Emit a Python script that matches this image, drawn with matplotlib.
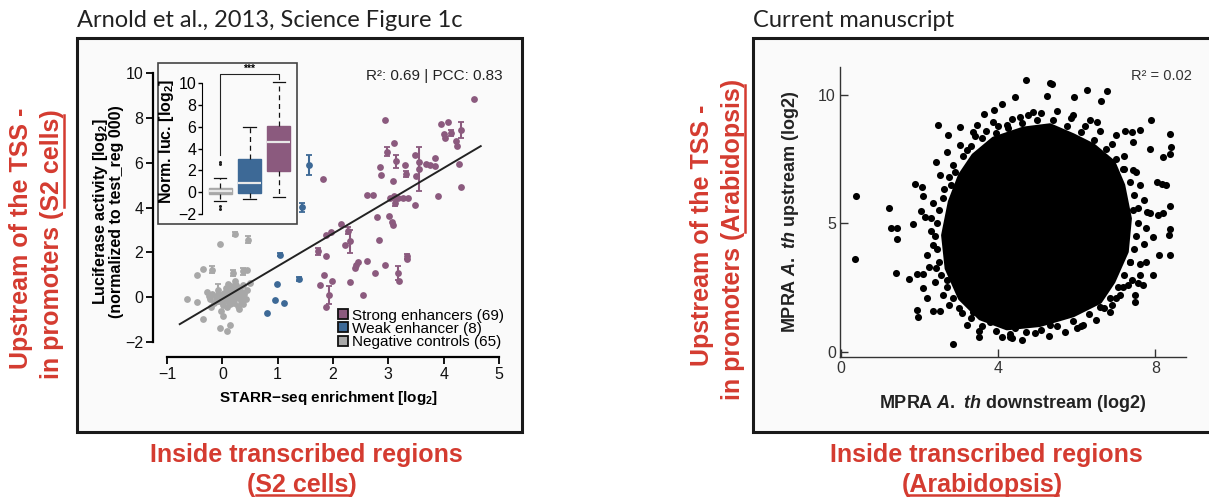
import numpy as np
import matplotlib
matplotlib.use("Agg")
import matplotlib.pyplot as plt
from matplotlib.patches import Rectangle, Polygon
from matplotlib.lines import Line2D

plt.rcParams['font.family'] = ['Liberation Sans', 'DejaVu Sans']
plt.rcParams['mathtext.fontset'] = 'custom'
plt.rcParams['mathtext.rm'] = 'Liberation Sans:bold'
plt.rcParams['mathtext.bf'] = 'Liberation Sans:bold'
plt.rcParams['mathtext.it'] = 'Liberation Sans:italic:bold'

# ---------- data: left panel (Arnold et al. 2013, Fig 1c) ----------
strong_x = [4.55, 2.94, 3.95, 4.07, 4.01, 4.02, 4.13, 4.32, 4.23, 4.25, 3.10, 2.97, 3.14, 2.85, 2.87,
            3.30, 3.32, 3.48, 3.56, 3.55, 3.75, 3.84, 3.84, 4.28, 4.31, 3.89, 3.49, 3.09, 3.03, 3.10,
            3.17, 3.26, 3.35, 3.12, 2.61, 2.73, 2.79, 3.01, 3.06, 3.09, 2.15, 1.97, 1.88, 2.27, 2.30,
            2.21, 1.82, 2.83, 1.73, 1.88, 2.42, 2.39, 2.61, 2.94, 2.76, 3.33, 3.18, 3.19, 1.84, 1.99,
            1.76, 2.30, 1.92, 1.88, 2.55, 3.50, 3.68, 2.45, 3.33]
strong_y = [8.85, 7.90, 7.74, 7.81, 7.30, 7.10, 7.32, 7.47, 6.95, 6.76, 6.86, 6.48, 6.06, 5.79, 5.47,
            5.88, 5.49, 6.36, 6.03, 5.72, 5.88, 6.21, 5.84, 5.96, 4.90, 4.50, 4.10, 5.17, 4.43, 4.50,
            4.43, 4.43, 4.43, 4.20, 4.57, 4.57, 3.56, 3.64, 3.35, 3.20, 3.26, 2.91, 2.79, 2.97, 2.49,
            2.31, 5.29, 2.56, 2.04, 1.82, 1.45, 1.30, 1.63, 1.45, 1.08, 1.82, 1.08, 0.71, 1.00, 0.71,
            0.53, 0.68, 0.11, -0.45, 0.11, 5.40, 5.92, 1.55, 1.70]
strong_err = [0, 0, 0, 0, 0, 0, 0.12, 0.35, 0, 0, 0, 0.2, 0.3, 0, 0,
              0, 0.15, 0, 0, 1.0, 0, 0, 0, 0, 0, 0, 0, 0, 0, 0,
              0, 0, 0, 0.15, 0, 0, 0, 0, 0, 0, 0, 0, 0, 0.15, 0.5,
              0, 0, 0, 0.15, 0, 0, 0, 0, 0, 0, 0.1, 0.3, 0, 0, 0,
              0, 0, 0.4, 0, 0, 0, 0, 0, 0]

weak_x = [1.56, 1.44, 1.05, 1.39, 0.99, 0.95, 1.12, 0.80]
weak_y = [5.91, 4.02, 1.90, 0.81, 0.60, -0.11, -0.26, -0.71]
weak_err = [0.45, 0.2, 0.08, 0.1, 0, 0, 0, 0]

neg_x = [0.23, 0.46, -0.05, -0.19, -0.35, -0.45, -0.63, -0.45, -0.35, -0.05, 0.08, 0.14, 0.02, 0.20,
         0.37, 0.45, 0.23, 0.50, -0.08,
         -0.28, -0.25, -0.22, -0.18, -0.15, -0.12, -0.10, -0.08, -0.05, -0.03, 0.00, 0.00, 0.02, 0.03,
         0.05, 0.06, 0.08, 0.08, 0.10, 0.12, 0.12, 0.14, 0.15, 0.16, 0.18, 0.20, 0.21, 0.22, 0.24, 0.25,
         0.27, 0.28, 0.30, 0.31, 0.33, 0.35, 0.36, 0.38, 0.40, 0.42, 0.44, 0.30, -0.20, 0.10, -0.02, 0.38]
neg_y = [2.83, 2.56, 2.39, 1.23, 1.27, 1.00, -0.07, -0.20, -0.96, -1.39, -1.53, -1.23, -0.86, 1.08,
         1.15, 1.23, 0.70, 0.65, 0.15,
         0.25, 0.05, -0.10, 0.15, -0.25, 0.00, -0.15, 0.30, -0.05, 0.10, -0.20, 0.05, -0.35, 0.20,
         -0.05, 0.40, -0.45, 0.10, -0.15, 0.25, 0.00, -0.30, 0.50, 0.10, -0.10, 0.35, -0.25, 0.05, 0.55, -0.05,
         0.20, -0.40, 0.10, 0.40, -0.15, 0.25, 0.00, -0.30, 0.15, -0.10, 0.30, -0.55, -0.45, 0.60, -0.60, 0.55]
neg_err = [0.08, 0.15, 0, 0.15, 0, 0, 0, 0, 0, 0, 0, 0, 0, 0.15, 0.15, 0, 0, 0, 0.45] + [0] * 46

fit_slope = 1.46
fit_intercept = -0.08
fit_range = [-0.77, 4.67]

legend_labels = ["Strong enhancers (69)", "Weak enhancer (8)", "Negative controls (65)"]
group_colors = ["#8B5A7E", "#3D6996", "#A8A8A8"]

# inset boxplot summary (negative, weak, strong)
box_med = [0.11, 0.82, 4.58]
box_q1 = [-0.19, -0.10, 1.97]
box_q3 = [0.41, 3.05, 6.10]
box_lo = [-0.81, -0.65, -0.41]
box_hi = [1.28, 6.00, 10.10]
box_fliers = [[2.80, 2.56, -1.24, -1.54], [], []]
box_order = [2, 1, 0]  # gray, blue, purple

# ---------- data: right panel (current manuscript) ----------
# solid centre of the cloud (outline) + the separate dots around it
core_x = [3.88, 4.64, 5.32, 5.91, 6.42, 6.93, 7.18, 7.35, 7.27, 6.93, 6.59, 5.91, 5.06, 4.22, 3.54,
          3.03, 2.69, 2.60, 2.77, 3.03, 3.37]
core_y = [8.29, 8.68, 8.81, 8.42, 8.03, 7.38, 6.48, 5.18, 3.89, 2.72, 1.94, 1.42, 1.04, 0.91, 1.30,
          2.07, 3.24, 4.53, 5.83, 6.87, 7.64]
dots_x = [0.38, 0.36, 1.22, 1.26, 1.42, 1.42, 1.40, 1.73, 1.82, 1.88, 2.05, 2.08, 2.04, 2.14, 1.93,
          2.08, 1.93, 1.95, 2.33, 2.52, 2.86, 3.51, 2.46, 2.73, 3.03, 3.45, 3.65, 3.89, 4.09, 4.43,
          4.70, 5.25, 5.32, 5.38, 5.94, 6.25, 6.62, 6.78, 7.23, 7.40, 7.61, 7.88, 8.37, 8.39, 8.37,
          8.20, 8.03, 8.27, 8.37, 8.37, 8.35, 8.37, 8.10, 7.95, 7.95, 7.48, 7.31, 7.57, 7.76, 7.78,
          7.86, 7.44, 7.18, 7.44, 2.43, 2.52, 2.62, 2.35, 2.18, 2.09, 2.18, 2.69, 2.43, 6.17, 6.00,
          5.32, 4.94, 4.43, 4.30, 4.34, 4.05, 3.79, 3.37, 3.07, 6.84, 6.68, 7.01, 7.18, 7.61, 5.91,
          6.34, 6.51, 7.01, 7.44, 7.86, 4.89, 4.55, 4.22, 3.88, 3.37, 3.03, 2.69, 2.86, 7.48, 7.69,
          7.35, 8.16, 8.07, 8.20]
dots_y = [6.05, 3.60, 5.60, 4.82, 4.82, 4.38, 3.07, 2.81, 4.96, 6.54, 6.41, 6.06, 5.48, 5.25, 3.04,
          3.04, 1.62, 1.36, 1.59, 1.59, 0.28, 0.58, 8.83, 8.42, 8.74, 8.83, 9.26, 9.39, 9.65, 9.91,
          10.58, 9.94, 10.45, 10.40, 9.91, 10.17, 9.74, 10.13, 8.58, 8.55, 8.61, 9.00, 8.48, 7.97, 7.71,
          7.58, 6.61, 6.48, 5.67, 4.79, 4.53, 3.76, 3.76, 4.47, 2.98, 2.20, 2.59, 2.66, 3.50, 5.44,
          5.38, 5.51, 7.12, 7.06, 7.38, 6.87, 6.35, 4.15, 3.76, 2.46, 2.07, 2.78, 3.24, 1.04, 0.93,
          1.04, 0.71, 0.91, 0.58, 0.52, 1.42, 1.17, 1.55, 1.49, 1.55, 1.68, 2.07, 2.53, 2.98, 9.20,
          9.00, 8.94, 8.42, 8.16, 7.90, 9.33, 9.13, 8.81, 8.94, 8.55, 8.03, 7.77, 7.25, 1.94, 2.59,
          3.50, 6.54, 5.31, 5.38]
ring_x = [3.60, 3.30, 3.10, 2.90, 2.80, 2.60, 2.50, 2.45, 2.40, 2.45, 2.50, 2.55, 2.70, 2.85, 3.00,
          3.30, 3.60, 3.95, 4.30, 4.70, 5.10, 5.50, 5.90, 6.30, 6.60, 6.85, 7.05, 7.20, 7.35, 7.45,
          7.50, 7.55, 7.55, 7.45, 7.35, 7.20, 7.00, 6.75, 6.45, 6.10, 5.75, 5.40, 5.00, 4.60, 4.25,
          3.95, 3.40, 3.20, 2.75, 2.35, 2.30, 2.30, 2.25, 2.40, 2.60, 2.75, 3.20, 3.50, 4.10, 4.60,
          5.30, 5.70, 6.10, 6.50, 6.90, 7.10, 7.40, 7.60, 7.70, 7.75, 7.70, 7.60, 7.50, 7.20, 6.90,
          6.60, 6.20, 5.85, 5.50, 5.10, 4.75, 4.35, 4.00, 3.70]
ring_y = [8.30, 8.00, 7.60, 7.00, 6.50, 6.00, 5.50, 5.00, 4.50, 4.00, 3.50, 3.00, 2.50, 2.10, 1.70,
          1.30, 1.00, 0.80, 0.70, 0.75, 0.85, 1.00, 1.20, 1.45, 1.75, 2.10, 2.50, 3.00, 3.50, 4.00,
          4.50, 5.00, 5.60, 6.10, 6.60, 7.10, 7.50, 7.90, 8.25, 8.55, 8.80, 9.00, 9.00, 8.90, 8.70,
          8.50, 8.40, 7.85, 6.80, 5.80, 5.20, 4.70, 3.30, 2.70, 2.20, 1.80, 1.05, 0.80, 0.55, 0.45,
          0.60, 0.75, 1.00, 1.25, 1.80, 2.20, 2.80, 3.40, 4.20, 4.80, 5.90, 6.50, 7.00, 7.60, 8.10,
          8.60, 8.80, 9.10, 9.35, 9.30, 9.20, 9.05, 8.80, 8.60]

red = "#D43B30"
W, H = 1209, 498


def fx(p):
    return p / W


def fy(p):
    return 1 - p / H


fig = plt.figure(figsize=(12.09, 4.98), dpi=100)

# panel frames + titles
for x0, x1, title in [(77, 522, "Arnold et al., 2013, Science Figure 1c"), (753, 1215, "Current manuscript")]:
    fig.add_artist(Rectangle((fx(x0), fy(432)), (x1 - x0) / W, (432 - 38) / H, transform=fig.transFigure,
                             fc="#FAFAFA", ec="#1A1A1A", lw=2.2, zorder=-5))
    fig.text(fx(x0), fy(27), title, family="Lato", fontsize=17, color="#222222", va="baseline", ha="left")

# ---------- left scatter ----------
ax = fig.add_axes([0.1267, 0.2831, 0.2906, 0.5838])
ax.patch.set_visible(False)
ax.set_xlim(-1.25, 5.1)
ax.set_ylim(-2.67, 10.3)
for gx, gy, ge, c in [(neg_x, neg_y, neg_err, group_colors[2]), (weak_x, weak_y, weak_err, group_colors[1]),
                      (strong_x, strong_y, strong_err, group_colors[0])]:
    gx, gy, ge = np.array(gx), np.array(gy), np.array(ge)
    m = ge > 0
    ax.errorbar(gx[m], gy[m], yerr=ge[m], fmt="none", ecolor=c, elinewidth=1.5, capsize=2.4, capthick=1.3, zorder=2)
    ax.scatter(gx, gy, s=24, color=c, lw=0, zorder=3)
fxs = np.array(fit_range)
ax.plot(fxs, fit_slope * fxs + fit_intercept, color="#222222", lw=1.4, zorder=4)
for s in ["top", "right"]:
    ax.spines[s].set_visible(False)
ax.spines["left"].set_bounds(-2, 10)
ax.spines["bottom"].set_bounds(-1, 5)
for s in ["left", "bottom"]:
    ax.spines[s].set_linewidth(1.6)
ax.set_xticks(range(-1, 6))
ax.set_xticklabels(["\u22121", "0", "1", "2", "3", "4", "5"])
ax.set_yticks(range(-2, 11, 2))
ax.set_yticklabels(["\u22122", "0", "2", "4", "6", "8", "10"])
ax.tick_params(length=5, width=1.4, labelsize=11.5, pad=2, colors="#111111")
ax.set_xlabel("STARR\u2212seq enrichment [log$_2$]", fontsize=11, fontweight="bold", labelpad=5)
ax.set_ylabel("Luciferase activity [log$_2$]\n(normalized to test_reg 000)", fontsize=11.5,
              fontweight="bold", labelpad=1, linespacing=0.95)
ax.text(0.995, 0.99, "R\u00b2: 0.69 | PCC: 0.83", transform=ax.transAxes, ha="right", va="top",
        fontsize=11, color="#222222")
handles = [Line2D([], [], marker="s", ls="", mfc=c, mec="#111111", mew=1.3, ms=7.5) for c in group_colors]
ax.legend(handles, legend_labels, loc="lower right", bbox_to_anchor=(fx(504), fy(349)),
          bbox_transform=fig.transFigure, frameon=False, borderpad=0, handlelength=0.7,
          handletextpad=0.25, labelspacing=-0.05, fontsize=11, borderaxespad=0)

# ---------- inset boxplot ----------
fig.add_artist(Rectangle((fx(158), fy(224)), (297 - 158) / W, (224 - 63) / H, transform=fig.transFigure,
                         fc="#FAFAFA", ec="#444444", lw=1.2, zorder=1))
axi = fig.add_axes([0.1671, 0.5622, 0.0744, 0.3072])
axi.set_zorder(2)
axi.patch.set_visible(False)
stats = []
for i in range(3):
    stats.append(dict(med=box_med[i], q1=box_q1[i], q3=box_q3[i], whislo=box_lo[i], whishi=box_hi[i],
                      fliers=box_fliers[i]))
bp = axi.bxp(stats, positions=[1, 2, 3], widths=0.78, patch_artist=True, capwidths=0.42,
             whiskerprops=dict(color="#111111", lw=0.9, ls=(0, (4, 3))),
             capprops=dict(color="#111111", lw=0.9),
             medianprops=dict(color="#E8E8E8", lw=1.6),
             flierprops=dict(marker="o", ms=2.2, mfc="#222222", mec="none"))
for patch, k in zip(bp["boxes"], box_order):
    patch.set_facecolor(group_colors[k])
    patch.set_edgecolor(group_colors[k])
axi.set_xlim(0.39, 3.44)
axi.set_ylim(-2.37, 11.65)
axi.plot([1, 1, 3, 3], [3.4, 10.8, 10.8, 10.4], color="#222222", lw=0.8, clip_on=False)
axi.text(2, 10.85, "***", ha="center", va="bottom", fontsize=7.5, fontweight="bold")
for s in ["top", "right", "bottom"]:
    axi.spines[s].set_visible(False)
axi.spines["left"].set_bounds(-2, 10)
axi.set_xticks([])
axi.set_yticks(range(-2, 11, 2))
axi.set_yticklabels(["\u22122", "0", "2", "4", "6", "8", "10"])
axi.tick_params(length=3, width=1, labelsize=11.5, pad=1)
axi.set_ylabel("Norm. luc. [log$_2$]", fontsize=11.5, fontweight="bold", labelpad=2)

# ---------- right scatter ----------
axr = fig.add_axes([0.6948, 0.2831, 0.2862, 0.5823])
axr.patch.set_visible(False)
axr.set_xlim(-0.025, 8.78)
axr.set_ylim(-0.21, 11.08)
axr.add_patch(Polygon(np.column_stack([core_x, core_y]), closed=True, fc="black", ec="black", lw=3,
                      joinstyle="round"))
axr.scatter(ring_x, ring_y, s=26, color="black", lw=0)
axr.scatter(dots_x, dots_y, s=26, color="black", lw=0)
for s in ["top", "right"]:
    axr.spines[s].set_visible(False)
for s in ["left", "bottom"]:
    axr.spines[s].set_color("#333333")
    axr.spines[s].set_linewidth(1.0)
axr.set_xticks([0, 4, 8])
axr.set_yticks([0, 5, 10])
axr.tick_params(direction="in", length=6, width=1, colors="#333333", labelsize=11.5, pad=3)
axr.set_xlabel("MPRA $\\it{A.}$ $\\it{th}$ downstream (log2)", fontsize=13, fontweight="bold",
               color="#222222", labelpad=12)
axr.set_ylabel("MPRA $\\it{A.}$ $\\it{th}$ upstream (log2)", fontsize=13, fontweight="bold",
               color="#222222", labelpad=12)
axr.text(1.0176, 0.97, "R\u00b2 = 0.02", transform=axr.transAxes, ha="right", va="center",
         fontsize=10.5, color="#333333")

# ---------- red annotations ----------
rk = dict(color=red, fontsize=18, fontweight="bold", ha="center", va="center")
fig.text(fx(21), fy(238), "Upstream of the TSS -", rotation=90, **rk)
fig.text(fx(52), fy(244), "in promoters (S2 cells)", rotation=90, **rk)
fig.text(fx(702), fy(235), "Upstream of the TSS -", rotation=90, **rk)
fig.text(fx(733), fy(239), "in promoters (Arabidopsis)", rotation=90, **rk)
fig.text(fx(306), fy(455), "Inside transcribed regions", **rk)
fig.text(fx(302), fy(485), "(S2 cells)", **rk)
fig.text(fx(986), fy(455), "Inside transcribed regions", **rk)
fig.text(fx(982), fy(485), "(Arabidopsis)", **rk)
for xs, ys in [([64, 64], [115, 207]), ([745, 745], [85, 232]), ([256, 350], [495, 495]), ([908, 1058], [495, 495])]:
    fig.add_artist(Line2D([fx(v) for v in xs], [fy(v) for v in ys], color=red, lw=1.8,
                          transform=fig.transFigure))

fig.savefig("out.png", dpi=100)
